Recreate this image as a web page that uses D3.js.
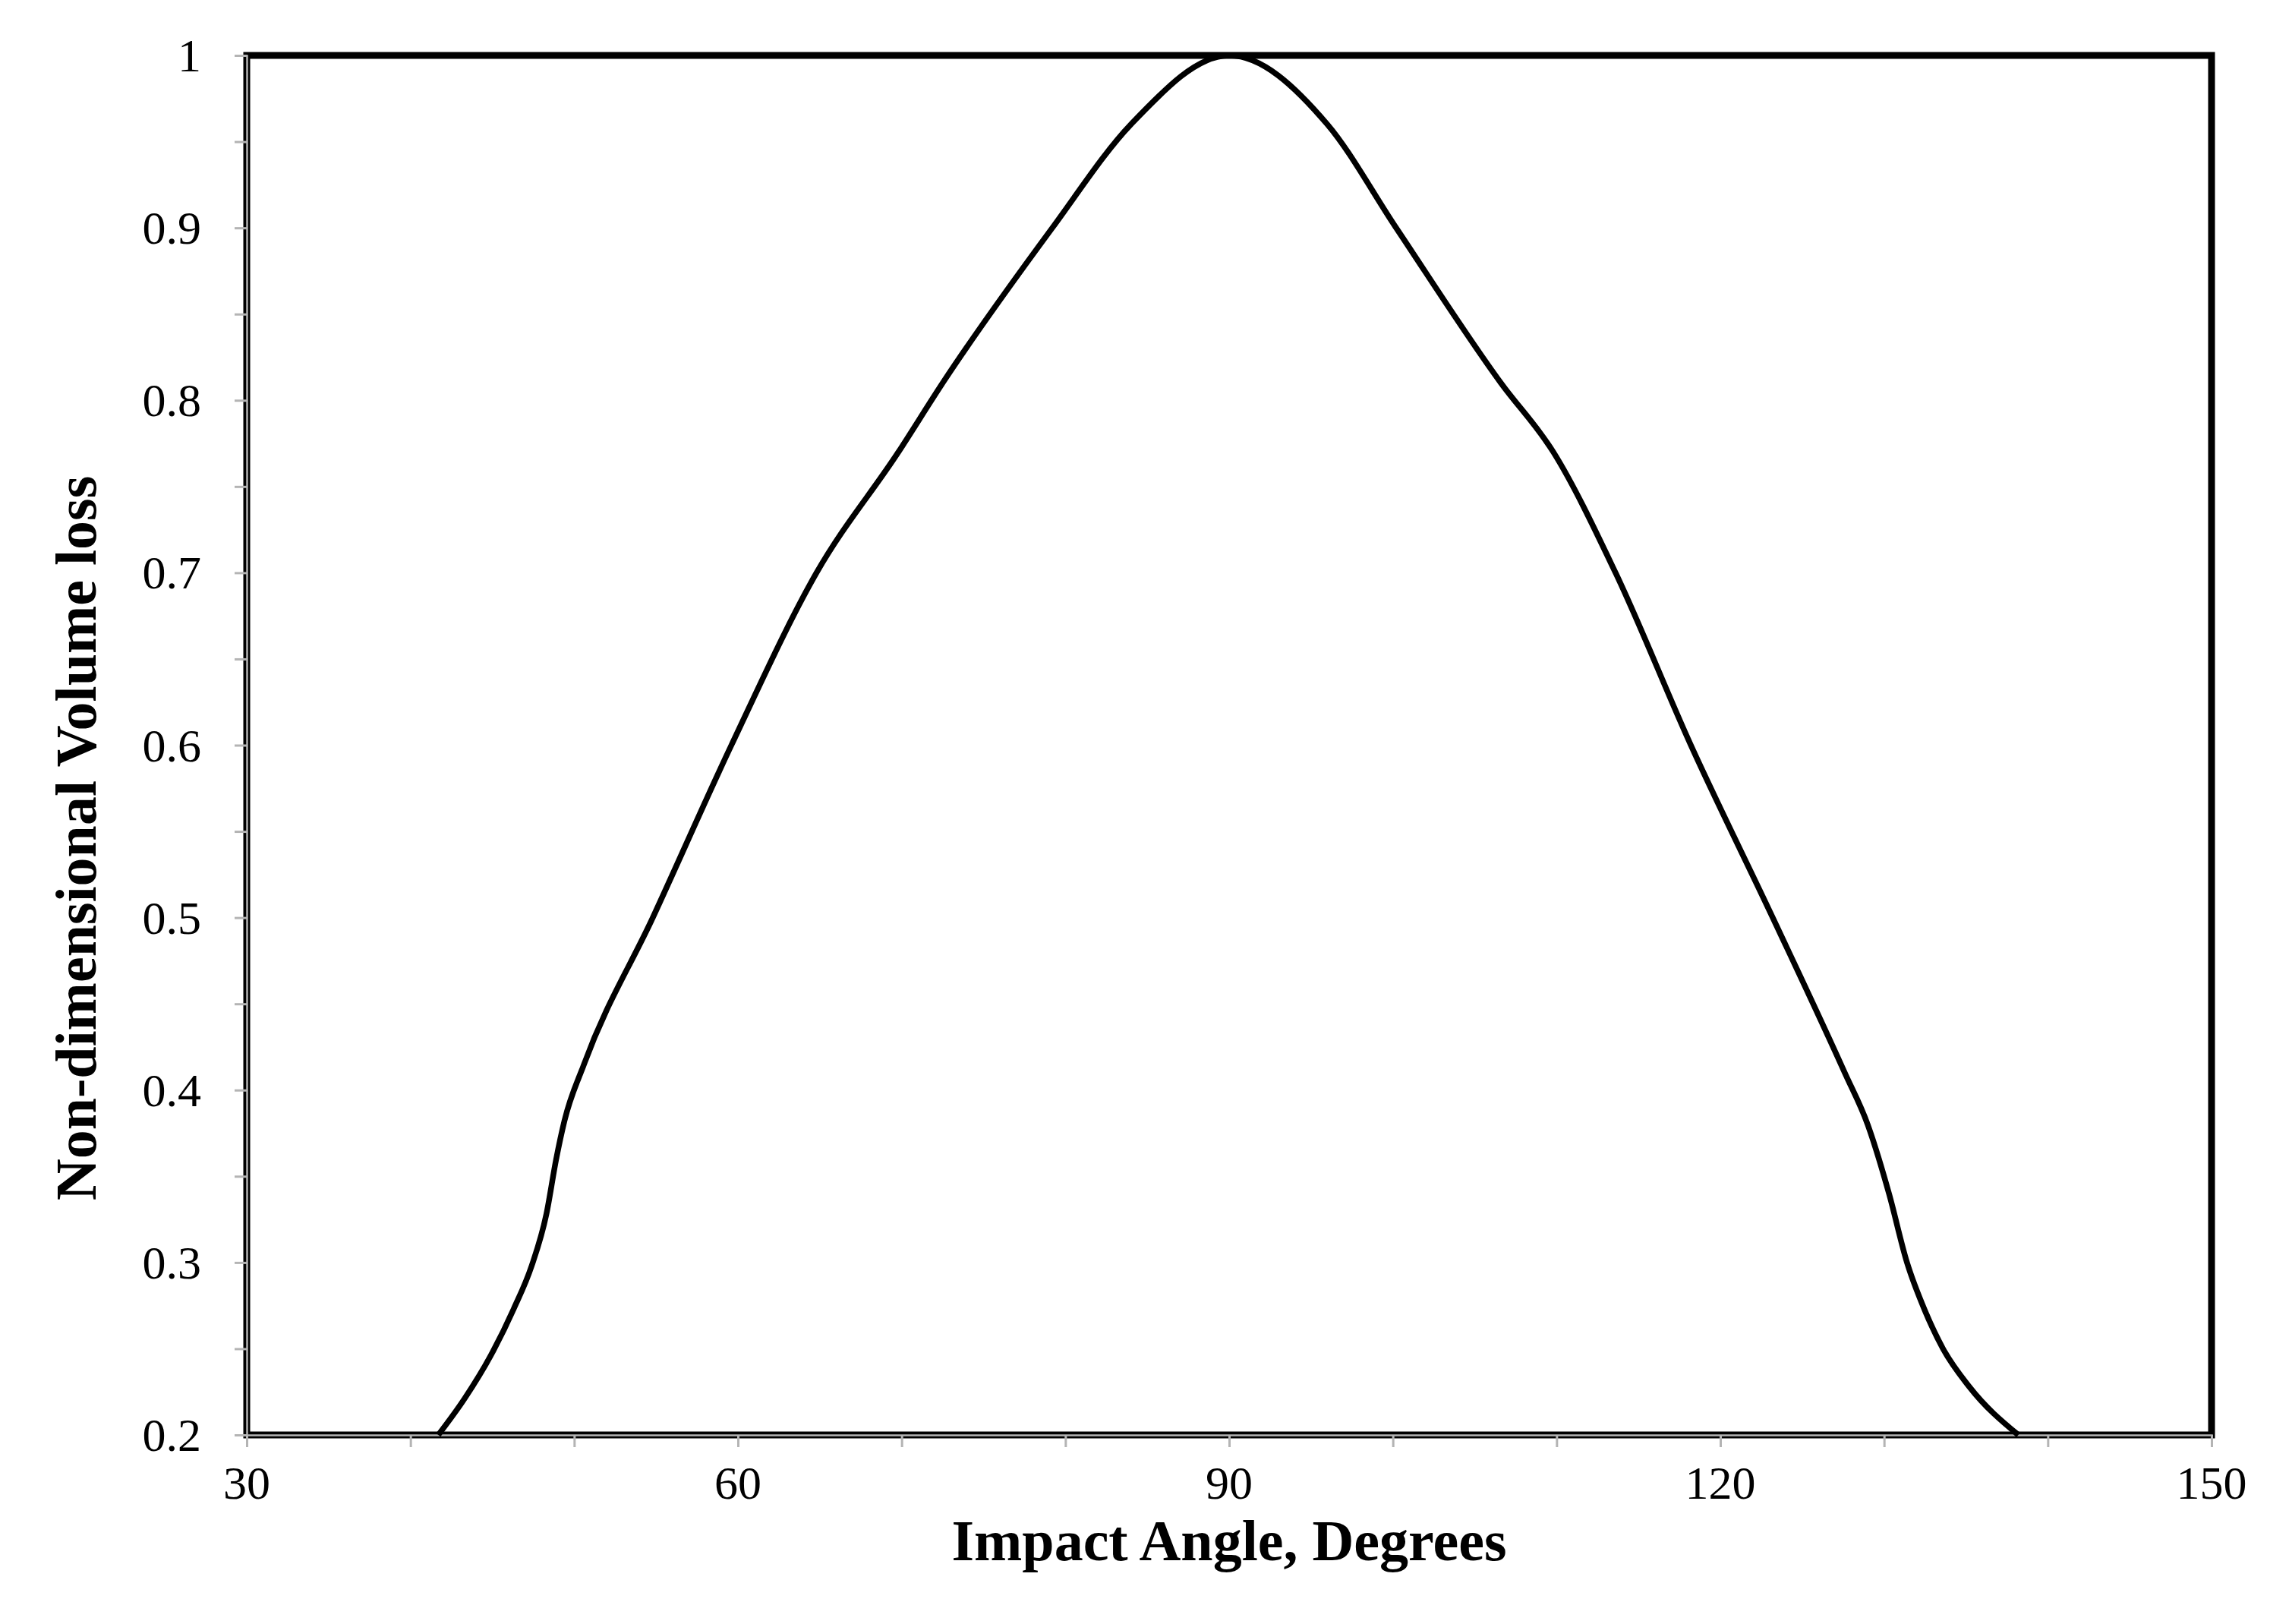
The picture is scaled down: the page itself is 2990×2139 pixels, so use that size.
<!DOCTYPE html>
<html>
<head>
<meta charset="utf-8">
<script src="https://cdn.jsdelivr.net/npm/d3@7"></script>
<style>
  body { margin: 0; background: #fff; }
  svg { display: block; }
</style>
</head>
<body>
<svg id="chart" width="2990" height="2139"></svg>
<script>
// impact angle (deg) and the non-dimensional volume loss
const angles = [41.7, 43.3, 44.9, 46.3, 47.4, 48.3, 48.9, 49.4, 50.6, 54.8, 59.6, 64.8, 69.8, 72.5, 79.2, 84.0, 90.0,
  96.0, 100.2, 106.6, 109.8, 113.6, 118.2, 123.2, 127.6, 129.0, 130.3, 131.4, 132.5, 133.6, 135.2, 138.2];
const volumeLoss = [0.2, 0.221, 0.246, 0.273, 0.298, 0.328, 0.36, 0.382, 0.415, 0.5, 0.6, 0.7, 0.77, 0.81, 0.9, 0.96, 1.0,
  0.96, 0.9, 0.81, 0.77, 0.7, 0.6, 0.5, 0.41, 0.38, 0.34, 0.3, 0.272, 0.25, 0.228, 0.2];

const xTicks = [30, 60, 90, 120, 150];
const xMinorTicks = [30, 40, 50, 60, 70, 80, 90, 100, 110, 120, 130, 140, 150];
const yTicks = [0.2, 0.3, 0.4, 0.5, 0.6, 0.7, 0.8, 0.9, 1];
const yMinorTicks = d3.range(0.2, 1.0001, 0.05);

const xTitle = "Impact Angle, Degrees";
const yTitle = "Non-dimensional Volume loss";

const margin = { left: 325, right: 77, top: 73, bottom: 249 };
const width = 2990, height = 2139;

const svg = d3.select("#chart");
const font = "'Liberation Serif', 'Times New Roman', serif";

const x = d3.scaleLinear().domain([30, 150]).range([margin.left, width - margin.right]);
const y = d3.scaleLinear().domain([0.2, 1]).range([height - margin.bottom, margin.top]);

// plot area frame
svg.append("rect")
  .attr("x", x(30))
  .attr("y", y(1))
  .attr("width", x(150) - x(30))
  .attr("height", y(0.2) - y(1))
  .attr("fill", "none")
  .attr("stroke", "#000")
  .attr("stroke-width", 9);

// gray axes on top of the frame (Excel style)
const xAxis = svg.append("g")
  .attr("transform", `translate(0,${y(0.2)})`)
  .call(d3.axisBottom(x).tickValues(xMinorTicks).tickSize(16).tickFormat(""));
const yAxis = svg.append("g")
  .attr("transform", `translate(${x(30)},0)`)
  .call(d3.axisLeft(y).tickValues(yMinorTicks).tickSize(16).tickFormat(""));

[xAxis, yAxis].forEach(function (g) {
  g.select(".domain").attr("stroke", "#b4b4b4").attr("stroke-width", 2.5);
  g.selectAll(".tick line").attr("stroke", "#b4b4b4").attr("stroke-width", 3);
});

// tick labels
svg.append("g")
  .selectAll("text")
  .data(xTicks)
  .join("text")
  .attr("x", (d) => x(d))
  .attr("y", y(0.2) + 84)
  .attr("text-anchor", "middle")
  .attr("font-family", font)
  .attr("font-size", 62)
  .text((d) => d);

svg.append("g")
  .selectAll("text")
  .data(yTicks)
  .join("text")
  .attr("x", x(30) - 60)
  .attr("y", (d) => y(d))
  .attr("dy", "0.34em")
  .attr("text-anchor", "end")
  .attr("font-family", font)
  .attr("font-size", 62)
  .text((d) => d3.format("")(d));

// curve
const line = d3.line()
  .x((d, i) => x(angles[i]))
  .y((d) => y(d))
  .curve(d3.curveMonotoneX);

svg.append("path")
  .datum(volumeLoss)
  .attr("fill", "none")
  .attr("stroke", "#000")
  .attr("stroke-width", 7.5)
  .attr("stroke-linejoin", "round")
  .attr("d", line);

// axis titles
svg.append("text")
  .attr("x", (x(30) + x(150)) / 2)
  .attr("y", 2055)
  .attr("text-anchor", "middle")
  .attr("font-family", font)
  .attr("font-weight", "bold")
  .attr("font-size", 76)
  .text(xTitle);

svg.append("text")
  .attr("transform", "translate(126,1104) rotate(-90)")
  .attr("text-anchor", "middle")
  .attr("font-family", font)
  .attr("font-weight", "bold")
  .attr("font-size", 76)
  .text(yTitle);
</script>
</body>
</html>
